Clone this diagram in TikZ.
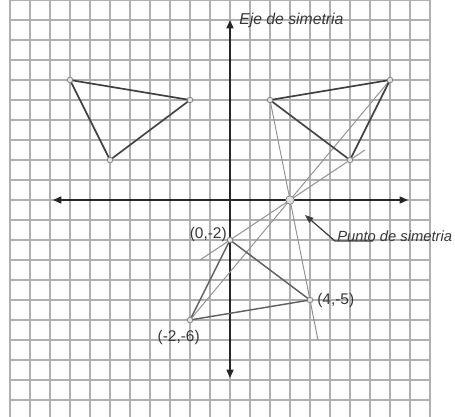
\documentclass[tikz,border=0pt]{standalone}
\usepackage{fontspec}
\setmainfont{Liberation Sans}
\usetikzlibrary{arrows.meta}
\begin{document}
\begin{tikzpicture}[x=0.5cm,y=0.5cm,
 gridline/.style={gray!62, line width=0.9pt},
 axis/.style={black!85, line width=1.1pt, {Triangle[length=6pt,width=5pt]}-{Triangle[length=6pt,width=5pt]}},
 tri/.style={black!75, line width=1.2pt, line join=round},
 tri2/.style={black!62, line width=1pt, line join=round},
 cons/.style={black!42, line width=0.7pt},
 pt/.style={circle, draw=black!50, fill=gray!25, line width=0.5pt, inner sep=0pt, minimum size=4pt},
 bigpt/.style={pt, minimum size=6pt},
 lbl/.style={text=black!78, font=\fontsize{11}{13}\selectfont, inner sep=0pt},
 ilbl/.style={lbl, font=\fontsize{11.2}{13}\selectfont\itshape},
 ilblsm/.style={lbl, font=\fontsize{10.5}{13}\selectfont\itshape}]
\useasboundingbox (-11.5,-10.85) rectangle (11.25,10);
\clip (-11.5,-10.85) rectangle (11.25,10);
\fill[white] (-11.5,-10.85) rectangle (11.25,10);
% grid
\foreach \x in {-11,...,10} \draw[gridline] (\x,-10.85) -- (\x,10);
\foreach \y in {-10,...,10} \draw[gridline] (-11,\y) -- (10,\y);
% axes
\coordinate (xl) at (-8.85,0); \coordinate (xr) at (8.9,0);
\coordinate (yb) at (0,-8.9);  \coordinate (yt) at (0,9);
\draw[axis] (xl) -- (xr);
\draw[axis] (yb) -- (yt);
% points
\coordinate (O) at (3,0);
\coordinate (A) at (0,-2);  \coordinate (B) at (4,-5);  \coordinate (C) at (-2,-6);
\coordinate (A1) at (6,2);  \coordinate (B1) at (2,5);  \coordinate (C1) at (8,6);
\coordinate (A2) at (-6,2); \coordinate (B2) at (-2,5); \coordinate (C2) at (-8,6);
% construction lines
\coordinate (c1s) at (-1.5,-3); \coordinate (c1e) at (6.75,2.5);
\coordinate (c3e) at (4.4,-7);
\draw[cons] (c1s) -- (c1e);
\draw[cons] (C) -- (C1);
\draw[cons] (B1) -- (c3e);
% triangles
\draw[tri2] (A) -- (B) -- (C) -- cycle;
\draw[tri] (A1) -- (B1) -- (C1) -- cycle;
\draw[tri] (A2) -- (B2) -- (C2) -- cycle;
% markers
\foreach \p in {A,B,C,A1,B1,C1,A2,B2,C2} \node[pt] at (\p) {};
\node[bigpt] (Om) at (O) {};
% leader
\coordinate (lt) at (3.75,-0.75); \coordinate (lk) at (5.25,-2.05); \coordinate (le) at (7.15,-2.05);
\draw[black!75, line width=0.9pt, -{Triangle[length=6pt,width=4.5pt]}] (le) -- (lk) -- (lt);
% labels
\node[ilbl, anchor=west] (eje) at (0.45,9.0) {Eje de simetria};
\node[ilblsm, anchor=west] (pun) at (5.35,-1.8) {Punto de simetria};
\node[lbl, anchor=east] (la) at (-0.15,-1.7) {(0,-2)};
\node[lbl, anchor=west] (lb) at (4.35,-5.0) {(4,-5)};
\node[lbl, anchor=east] (lc) at (-1.5,-6.85) {(-2,-6)};
\end{tikzpicture}
\end{document}
